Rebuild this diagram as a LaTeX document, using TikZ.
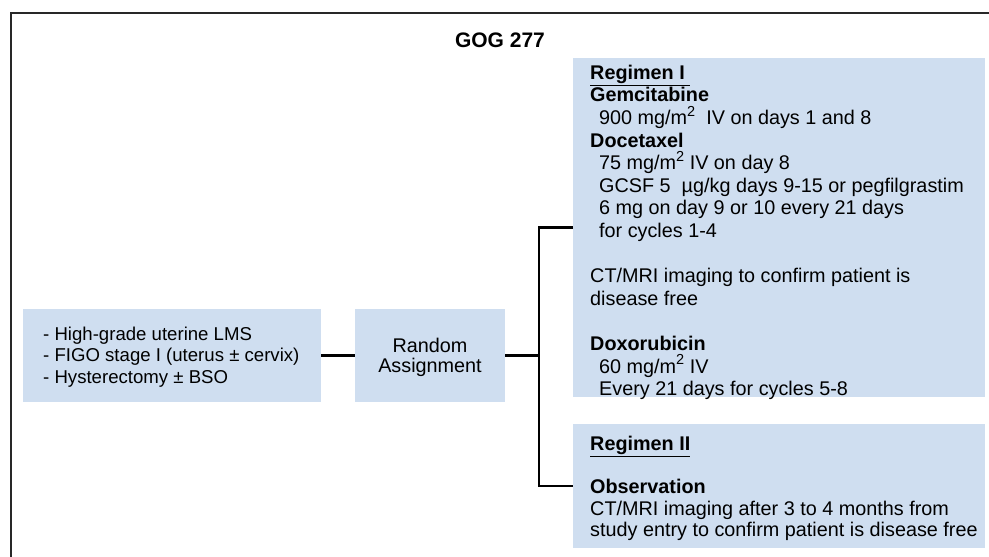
\documentclass[tikz,border=0pt]{standalone}
\usepackage{fontspec}
\setmainfont{Liberation Sans}
\definecolor{boxblue}{RGB}{207,222,240}
\definecolor{framegray}{RGB}{40,40,40}
\tikzset{
  box/.style={fill=boxblue, draw=none, inner sep=0pt, anchor=north west},
  txt/.style={inner sep=0pt, align=left, anchor=north west, font=\fontsize{19.8}{22.6}\selectfont},
  conn/.style={draw=black, line width=2.5pt},
}
\newcommand{\ind}{\hspace*{9pt}}
\newcommand{\fl}{\rule{0pt}{16pt}}
\newcommand{\sq}{\raisebox{0.42em}{\fontsize{14.5}{14.5}\selectfont 2}}
\begin{document}
\begin{tikzpicture}[x=1pt,y=-1pt]
\useasboundingbox (0,0) rectangle (989,557);
% frame
\draw[framegray, line width=2pt] (11,560) -- (11,13) -- (992,13);
% title
\node[inner sep=0pt, anchor=base, font=\fontsize{21}{24}\selectfont\bfseries] (title) at (500,47) {GOG 277};
% boxes
\node[box, minimum width=298pt, minimum height=93pt] (elig) at (23,309) {};
\node[box, minimum width=150pt, minimum height=93pt] (rand) at (355,309) {};
\node[box, minimum width=412pt, minimum height=339pt] (reg1) at (573,58) {};
\node[box, minimum width=412pt, minimum height=124pt] (reg2) at (573,424) {};
% texts
\node[txt, font=\fontsize{18.6}{21.6}\selectfont] (eligt) at (43,324) {\fl- High-grade uterine LMS\\- FIGO stage I (uterus ± cervix)\\- Hysterectomy ± BSO};
\node[txt, align=center, anchor=north, font=\fontsize{19.8}{20.5}\selectfont] (randt) at (430,336) {\fl Random\\Assignment};
\node[txt] (reg1t) at (590,63) {\fl\underline{\textbf{Regimen I\ }}\\
\textbf{Gemcitabine}\\
\ind 900 mg/m\sq\ \ IV on days 1 and 8\\
\textbf{Docetaxel}\\
\ind 75 mg/m\sq\ IV on day 8\\
\ind GCSF 5\ \ µg/kg days 9-15 or pegfilgrastim\\
\ind 6 mg on day 9 or 10 every 21 days\\
\ind for cycles 1-4\\
\strut\\
CT/MRI imaging to confirm patient is\\
disease free\\
\strut\\
\textbf{Doxorubicin}\\
\ind 60 mg/m\sq\ IV\\
\ind Every 21 days for cycles 5-8};
\node[txt, font=\fontsize{19.8}{21.6}\selectfont] (reg2t) at (590,434) {\fl\underline{\textbf{Regimen II}}\\
\strut\\
\textbf{Observation}\\
CT/MRI imaging after 3 to 4 months from\\
study entry to confirm patient is disease free};
% connectors
\coordinate (j) at (539,356);
\draw[conn] (elig.east) -- (rand.west);
\draw[conn] (rand.east) -- (rand.east -| j);
\draw[conn] (reg1.west) -- (reg1.west -| j) -- (reg2.west -| j) -- (reg2.west);
\end{tikzpicture}
\end{document}
